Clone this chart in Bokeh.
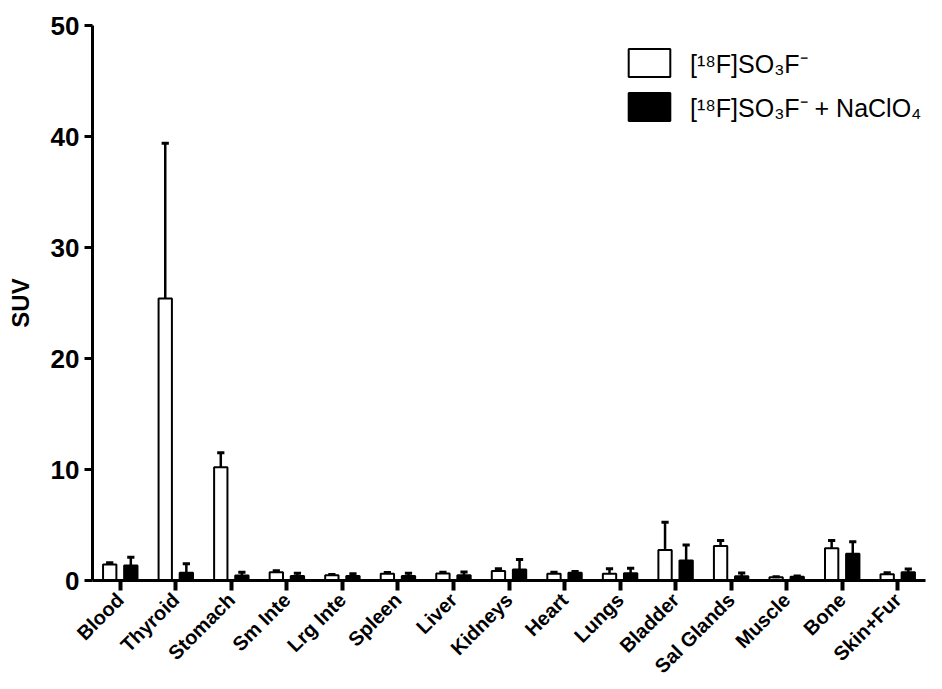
import math
from bokeh.plotting import figure
from bokeh.models import ColumnDataSource, Range1d, Legend, LegendItem, FixedTicker
from bokeh.transform import dodge
from bokeh.embed import file_html
from bokeh.resources import INLINE

# ---- data ----
organs = ["Blood", "Thyroid", "Stomach", "Sm Inte", "Lrg Inte", "Spleen", "Liver",
          "Kidneys", "Heart", "Lungs", "Bladder", "Sal Glands", "Muscle", "Bone", "Skin+Fur"]
suv_tracer = [1.45, 25.4, 10.2, 0.75, 0.48, 0.60, 0.62, 0.85, 0.60, 0.60, 2.75, 3.10, 0.30, 2.90, 0.57]
sem_tracer = [0.15, 14.0, 1.30, 0.12, 0.05, 0.12, 0.12, 0.20, 0.15, 0.45, 2.50, 0.50, 0.03, 0.70, 0.12]
suv_block = [1.35, 0.70, 0.45, 0.40, 0.40, 0.40, 0.48, 1.00, 0.70, 0.65, 1.80, 0.38, 0.33, 2.40, 0.75]
sem_block = [0.75, 0.80, 0.30, 0.25, 0.20, 0.25, 0.28, 0.90, 0.10, 0.45, 1.40, 0.30, 0.07, 1.10, 0.28]
y_ticks = [0, 10, 20, 30, 40, 50]
legend_labels = ["[\u00b9\u2078F]SO\u2083F\u207b", "[\u00b9\u2078F]SO\u2083F\u207b + NaClO\u2084"]

idx = list(range(len(organs)))
src = ColumnDataSource(dict(
    idx=idx,
    organ=organs,
    tracer=suv_tracer,
    tracer_hi=[v + e for v, e in zip(suv_tracer, sem_tracer)],
    block=suv_block,
    block_hi=[v + e for v, e in zip(suv_block, sem_block)],
))

FONT = "Liberation Sans"

p = figure(x_range=Range1d(-0.5, len(organs) - 0.5),
           y_range=Range1d(0, 50),
           width=942, height=689, output_backend="svg", toolbar_location=None,
           min_border_left=92, min_border_right=17, min_border_top=25, min_border_bottom=109)
p.outline_line_color = None
p.xgrid.visible = False
p.ygrid.visible = False
p.background_fill_color = "white"
p.border_fill_color = "white"

OFF = 0.19
BW = 0.24
CAP = 0.065

r1 = p.vbar(x=dodge("idx", -OFF), top="tracer", width=BW,
            fill_color="white", line_color="black", line_width=2, source=src)
r2 = p.vbar(x=dodge("idx", OFF), top="block", width=BW,
            fill_color="black", line_color="black", line_width=2, source=src)

# error bars (upper only) with caps
for off, lo, hi in [(-OFF, "tracer", "tracer_hi"), (OFF, "block", "block_hi")]:
    p.segment(x0=dodge("idx", off), y0=lo, x1=dodge("idx", off), y1=hi,
              line_color="black", line_width=2.5, source=src)
    p.segment(x0=dodge("idx", off - CAP), y0=hi, x1=dodge("idx", off + CAP), y1=hi,
              line_color="black", line_width=3, source=src)

# y axis
ya = p.yaxis[0]
ya.ticker = FixedTicker(ticks=y_ticks)
ya.axis_line_width = 3
ya.major_tick_line_width = 3
ya.major_tick_out = 8
ya.major_tick_in = 0
ya.minor_tick_line_color = None
ya.major_label_text_font = FONT
ya.major_label_text_font_style = "bold"
ya.major_label_text_font_size = "26px"
ya.major_label_text_color = "black"
ya.major_label_standoff = 5
ya.axis_label = "SUV"
ya.axis_label_text_font = FONT
ya.axis_label_text_font_style = "bold"
ya.axis_label_text_font_size = "24px"
ya.axis_label_text_color = "black"
ya.axis_label_standoff = 14

# x axis
xa = p.xaxis[0]
xa.ticker = FixedTicker(ticks=idx)
xa.major_label_overrides = {i: name for i, name in zip(idx, organs)}
xa.axis_line_width = 3
xa.major_tick_line_width = 4
xa.major_tick_out = 10
xa.major_tick_in = 0
xa.minor_tick_line_color = None
xa.major_label_orientation = math.pi / 4
xa.major_label_text_font = FONT
xa.major_label_text_font_style = "bold"
xa.major_label_text_font_size = "20px"
xa.major_label_text_color = "black"
xa.major_label_standoff = 6

legend = Legend(items=[LegendItem(label=legend_labels[0], renderers=[r1]),
                       LegendItem(label=legend_labels[1], renderers=[r2])],
                location=(531, 456), glyph_width=52, glyph_height=35,
                label_standoff=15, spacing=9, padding=0, margin=0,
                border_line_color=None, background_fill_alpha=0,
                label_text_font=FONT, label_text_font_size="25px",
                label_text_color="black")
p.add_layout(legend)

open("out.html", "w").write(file_html(p, INLINE))
